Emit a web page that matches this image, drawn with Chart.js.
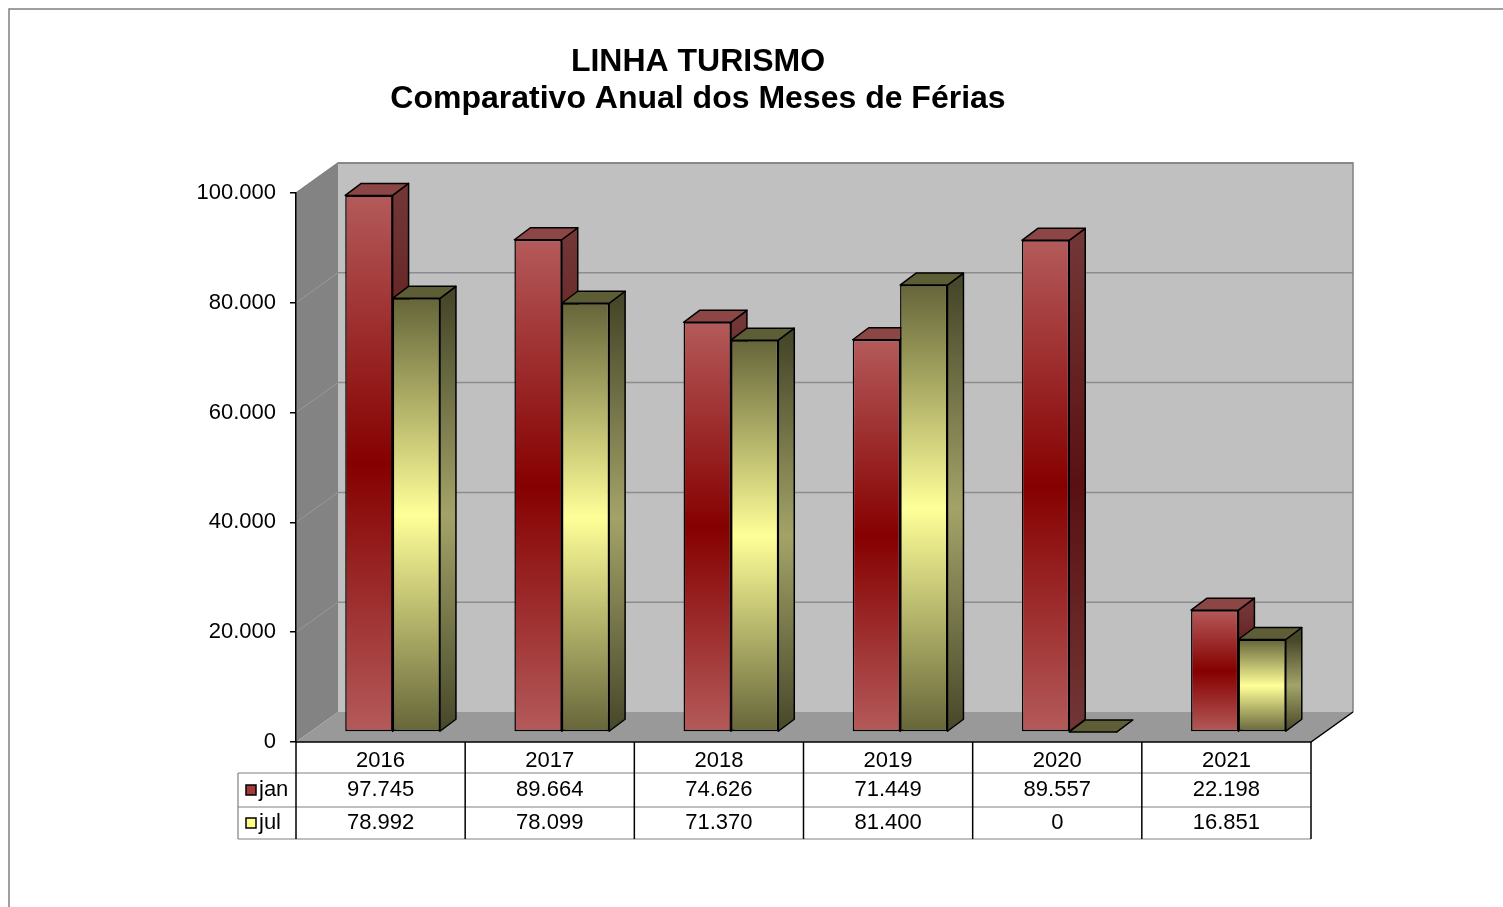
<!DOCTYPE html>
<html>
<head>
<meta charset="utf-8">
<title>Linha Turismo</title>
<script src="https://cdn.jsdelivr.net/npm/chart.js@4.4.1/dist/chart.umd.min.js"></script>
<style>
    html, body { margin: 0; padding: 0; background: #fff; }
</style>
</head>
<body>
<canvas id="turismoChart" width="1503" height="907"></canvas>
<script>
const years = ['2016', '2017', '2018', '2019', '2020', '2021'];
const janValues = [97745, 89664, 74626, 71449, 89557, 22198];
const julValues = [78992, 78099, 71370, 81400, 0, 16851];
const seriesNames = ['jan', 'jul'];
const yTicks = [0, 20000, 40000, 60000, 80000, 100000];
const titleLines = ['LINHA TURISMO', 'Comparativo Anual dos Meses de Férias'];

const FONT = '"Liberation Sans", Arial, sans-serif';

// depth of the walls/floor, where the bars stand, and how thick each bar is
const WALL_DX = 42, WALL_DY = -30;
const BAR_DX = 12, BAR_DY = -10;
const SIDE_DX = 16, SIDE_DY = -12;

const palettes = [
    { front: ['#b45a5a', '#860000'], side: ['#723636', '#5a1010'], top: '#8c4646', key: '#a33b3b' },
    { front: ['#65653a', '#ffff99'], side: ['#47472a', '#a3a368'], top: '#5e5e36', key: '#ffff88' },
];

function fmt(v) {
    return String(v).replace(/\B(?=(\d{3})+(?!\d))/g, '.');
}

function frontFill(context, pal) {
    const chart = context.chart;
    const y = chart.scales.y;
    if (context.type !== 'data' || !y || !chart.chartArea) return pal.front[1];
    const top = y.getPixelForValue(context.raw);
    const base = y.getPixelForValue(0);
    if (base - top < 1) return pal.front[0];
    const g = chart.ctx.createLinearGradient(0, top, 0, base);
    g.addColorStop(0, pal.front[0]);
    g.addColorStop(0.5, pal.front[1]);
    g.addColorStop(1, pal.front[0]);
    return g;
}

function poly(ctx, pts, fill, stroke, width) {
    ctx.beginPath();
    ctx.moveTo(pts[0][0], pts[0][1]);
    for (let i = 1; i < pts.length; i++) ctx.lineTo(pts[i][0], pts[i][1]);
    ctx.closePath();
    if (fill) { ctx.fillStyle = fill; ctx.fill(); }
    if (stroke) { ctx.strokeStyle = stroke; ctx.lineWidth = width || 1; ctx.stroke(); }
}

// side and top faces of the bars of one dataset
function drawFaces(chart, di) {
    const ctx = chart.ctx;
    const pal = palettes[di];
    ctx.lineJoin = 'round';
    chart.getDatasetMeta(di).data.forEach(bar => {
        const l = bar.x - bar.width / 2, r = bar.x + bar.width / 2;
        const t = bar.y, b = bar.base;
        let sideFill = pal.side[0];
        if (b - t > 1) {
            sideFill = ctx.createLinearGradient(0, t, 0, b);
            sideFill.addColorStop(0, pal.side[0]);
            sideFill.addColorStop(0.5, pal.side[1]);
            sideFill.addColorStop(1, pal.side[0]);
        }
        poly(ctx, [[r, t], [r + SIDE_DX, t + SIDE_DY], [r + SIDE_DX, b + SIDE_DY], [r, b]], sideFill, '#000', 1.5);
        poly(ctx, [[l, t], [l + SIDE_DX, t + SIDE_DY], [r + SIDE_DX, t + SIDE_DY], [r, t]], pal.top, '#000', 1.5);
    });
}

const box3d = {
    id: 'box3d',
    beforeDraw(chart) {
        const ctx = chart.ctx;
        const { left, right, top, bottom } = chart.chartArea;
        const y = chart.scales.y;
        ctx.save();
        // back wall
        poly(ctx, [[left + WALL_DX, top + WALL_DY], [right + WALL_DX, top + WALL_DY],
                   [right + WALL_DX, bottom + WALL_DY], [left + WALL_DX, bottom + WALL_DY]], '#c0c0c0');
        // side wall
        poly(ctx, [[left, top], [left + WALL_DX, top + WALL_DY],
                   [left + WALL_DX, bottom + WALL_DY], [left, bottom]], '#838383');
        // floor
        poly(ctx, [[left, bottom], [right, bottom], [right + WALL_DX, bottom + WALL_DY],
                   [left + WALL_DX, bottom + WALL_DY]], '#999999');

        yTicks.slice(1).forEach(v => {
            const py = y.getPixelForValue(v);
            ctx.beginPath();
            ctx.moveTo(left + WALL_DX, py + WALL_DY);
            ctx.lineTo(right + WALL_DX, py + WALL_DY);
            ctx.strokeStyle = '#8c8c8c';
            ctx.lineWidth = 1.5;
            ctx.stroke();
            ctx.beginPath();
            ctx.moveTo(left, py);
            ctx.lineTo(left + WALL_DX, py + WALL_DY);
            ctx.strokeStyle = '#999999';
            ctx.lineWidth = 1;
            ctx.stroke();
        });

        // outline of the walls
        ctx.strokeStyle = '#808080';
        ctx.lineWidth = 1.5;
        ctx.beginPath();
        ctx.moveTo(left, top);
        ctx.lineTo(left + WALL_DX, top + WALL_DY);
        ctx.lineTo(right + WALL_DX, top + WALL_DY);
        ctx.lineTo(right + WALL_DX, bottom + WALL_DY);
        ctx.stroke();

        ctx.strokeStyle = '#000';
        ctx.beginPath();
        ctx.moveTo(left, bottom);
        ctx.lineTo(right, bottom);
        ctx.lineTo(right + WALL_DX, bottom + WALL_DY);
        ctx.stroke();
        ctx.restore();
    },
    beforeDatasetsDraw(chart) {
        chart.ctx.save();
        chart.ctx.translate(BAR_DX, BAR_DY);
        drawFaces(chart, 0);
    },
    afterDatasetDraw(chart, args) {
        if (args.index === 1) drawFaces(chart, 1);
    },
    afterDatasetsDraw(chart) {
        chart.ctx.restore();
    },
    afterDraw(chart) {
        const ctx = chart.ctx;
        const { left, right, bottom } = chart.chartArea;
        const x = chart.scales.x;
        const colW = (right - left) / years.length;
        const rows = [bottom, bottom + 31, bottom + 65, bottom + 97];
        const keyLeft = left - 58;
        ctx.save();

        // data table under the floor
        ctx.strokeStyle = '#808080';
        ctx.lineWidth = 1.2;
        rows.slice(1).forEach(ry => {
            ctx.beginPath();
            ctx.moveTo(keyLeft, ry);
            ctx.lineTo(right, ry);
            ctx.stroke();
        });
        ctx.beginPath();
        ctx.moveTo(keyLeft, rows[1]);
        ctx.lineTo(keyLeft, rows[3]);
        ctx.stroke();

        ctx.strokeStyle = '#000';
        ctx.lineWidth = 1.5;
        for (let i = 0; i <= years.length; i++) {
            const cx = left + i * colW;
            ctx.beginPath();
            ctx.moveTo(cx, bottom);
            ctx.lineTo(cx, rows[3]);
            ctx.stroke();
        }

        ctx.fillStyle = '#000';
        ctx.font = '22px ' + FONT;
        ctx.textAlign = 'center';
        ctx.textBaseline = 'middle';
        const tableValues = [janValues, julValues];
        years.forEach((yr, i) => {
            const cx = x.getPixelForValue(i);
            ctx.fillText(yr, cx, (rows[0] + rows[1]) / 2 + 3);
            tableValues.forEach((vals, s) => {
                ctx.fillText(fmt(vals[i]), cx, (rows[s + 1] + rows[s + 2]) / 2);
            });
        });

        seriesNames.forEach((name, s) => {
            const cy = (rows[s + 1] + rows[s + 2]) / 2;
            ctx.fillStyle = palettes[s].key;
            ctx.fillRect(keyLeft + 8, cy - 5, 10, 10);
            ctx.strokeStyle = '#000';
            ctx.lineWidth = 1.5;
            ctx.strokeRect(keyLeft + 8, cy - 5, 10, 10);
            ctx.fillStyle = '#000';
            ctx.textAlign = 'left';
            ctx.fillText(name, keyLeft + 21, cy);
        });

        // title
        ctx.font = 'bold 32px ' + FONT;
        ctx.textAlign = 'center';
        titleLines.forEach((line, i) => ctx.fillText(line, 698, 62 + i * 37));

        // chart frame
        ctx.strokeStyle = '#808080';
        ctx.lineWidth = 1.5;
        ctx.beginPath();
        ctx.moveTo(9, chart.height);
        ctx.lineTo(9, 9);
        ctx.lineTo(chart.width, 9);
        ctx.stroke();
        ctx.restore();
    }
};

const ctx = document.getElementById('turismoChart').getContext('2d');
const turismoChart = new Chart(ctx, {
    type: 'bar',
    data: {
        labels: years,
        datasets: [
            {
                label: seriesNames[0],
                data: janValues,
                backgroundColor: c => frontFill(c, palettes[0]),
                borderColor: '#000',
                borderWidth: 1.5,
                borderSkipped: false,
            },
            {
                label: seriesNames[1],
                data: julValues,
                backgroundColor: c => frontFill(c, palettes[1]),
                borderColor: '#000',
                borderWidth: 1.5,
                borderSkipped: false,
            },
        ],
    },
    options: {
        responsive: false,
        animation: false,
        clip: false,
        layout: { padding: { left: 0, top: 193, right: 192, bottom: 165 } },
        categoryPercentage: 0.56,
        barPercentage: 1,
        plugins: {
            legend: { display: false },
            tooltip: { enabled: false },
        },
        scales: {
            x: { display: false },
            y: {
                min: 0,
                max: 100000,
                afterFit: scale => { scale.width = 296; },
                afterBuildTicks: scale => { scale.ticks = yTicks.map(v => ({ value: v })); },
                ticks: {
                    callback: v => fmt(v),
                    color: '#000',
                    padding: 14,
                    font: { family: FONT, size: 22 },
                },
                grid: { drawOnChartArea: false, tickLength: 6, color: '#000', lineWidth: 1.5 },
                border: { color: '#000', width: 1.5 },
            },
        },
    },
    plugins: [box3d],
});
</script>
</body>
</html>
